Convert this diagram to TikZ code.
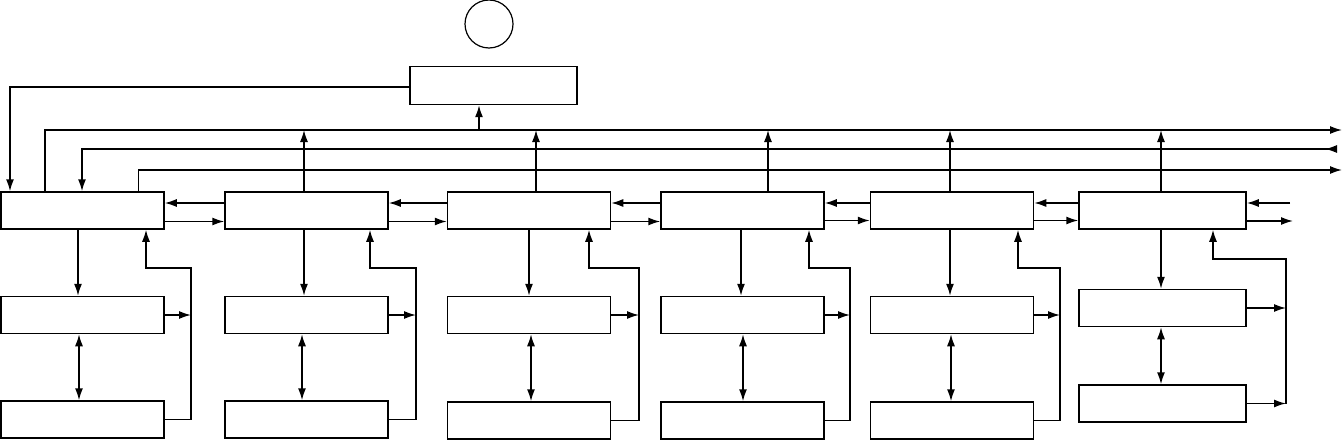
\documentclass[tikz,border=0pt]{standalone}
\usetikzlibrary{positioning,arrows.meta}
\begin{document}
\begin{tikzpicture}[x=1pt, y=-1pt, line width=1.5pt]
	% Define styles for boxes and arrows
	\tikzset{
		box/.style={
			rectangle,
			draw,
			minimum width=163pt,
			minimum height=37pt,
			inner sep=0pt
		},
		widebox/.style={box, minimum width=167pt},
		arr/.style={arrows=-{Latex[length=12pt,width=8pt]}},
		dblarr/.style={arrows={Latex[length=12pt,width=8pt]}-{Latex[length=12pt,width=8pt]}},
		inarr/.style={arrows={Latex[reversed,length=12pt,width=8pt]}-{Latex[length=12pt,width=8pt]}}
	}
	\useasboundingbox (0,0) rectangle (1343,441);

	% Sensor and controller on top
	\node[circle, draw, line width=1.2pt, minimum size=48pt, inner sep=0pt] (sensor) at (489,24) {};
	\node[widebox, minimum height=38pt] (ctrl) at (493.5,85.5) {};

	% Nodes for the stages
	\node[box] (stage1M) at (82.5,210.5) {};
	\node[box] (stage2M) at (306.5,210.5) {};
	\node[box] (stage3M) at (529,210.5) {};
	\node[box] (stage4M) at (742.5,210.5) {};
	\node[box] (stage5M) at (952,210.5) {};
	\node[widebox] (stage6M) at (1162.5,210.5) {};

	% Buffer and store under each stage
	\node[box, below=66pt of stage1M] (mid1M) {};
	\node[box, below=66pt of mid1M] (low1M) {};
	\node[box, below=66pt of stage2M] (mid2M) {};
	\node[box, below=66pt of mid2M] (low2M) {};
	\node[box, below=66pt of stage3M] (mid3M) {};
	\node[box, below=67pt of mid3M] (low3M) {};
	\node[box, below=66pt of stage4M] (mid4M) {};
	\node[box, below=67pt of mid4M] (low4M) {};
	\node[box, below=66pt of stage5M] (mid5M) {};
	\node[box, below=67pt of mid5M] (low5M) {};
	\node[widebox, below=59pt of stage6M] (mid6M) {};
	\node[widebox, below=57pt of mid6M] (low6M) {};

	% Bus lines
	\coordinate (busA) at (1342,130);
	\coordinate (busB) at (1337,149);
	\coordinate (busC) at (1342,170);
	\draw[arr] ([xshift=-37.5pt]stage1M.north) |- (busA);
	\draw[inarr] (busB) -| ([xshift=-0.5pt]stage1M.north);
	\draw[arr] ([xshift=56pt]stage1M.north) |- (busC);
	\draw[arr] ([yshift=-1.5pt]ctrl.west) -| ([xshift=-72.5pt]stage1M.north);
	\coordinate (tap) at ([xshift=-14.5pt]ctrl.south);
	\draw[arr] (tap |- busA) -- (tap);

	% Risers from the stages to the bus
	\coordinate (rise2) at ([xshift=-2.5pt]stage2M.north);
	\coordinate (rise3) at ([xshift=7pt]stage3M.north);
	\coordinate (rise4) at ([xshift=25.5pt]stage4M.north);
	\coordinate (rise5) at ([xshift=-2pt]stage5M.north);
	\coordinate (rise6) at ([xshift=-1.5pt]stage6M.north);
	\draw[arr] (rise2) -- (rise2 |- busA);
	\draw[arr] (rise3) -- (rise3 |- busA);
	\draw[arr] (rise4) -- (rise4 |- busA);
	\draw[arr] (rise5) -- (rise5 |- busA);
	\draw[arr] (rise6) -- (rise6 |- busA);

	% Arrows between neighbouring stages
	\draw[arr] ([yshift=7.5pt]stage2M.west) -- ([yshift=7.5pt]stage1M.east);
	\draw[arr] ([yshift=-11pt]stage1M.east) -- ([yshift=-11pt]stage2M.west);
	\draw[arr] ([yshift=7.5pt]stage3M.west) -- ([yshift=7.5pt]stage2M.east);
	\draw[arr] ([yshift=-11pt]stage2M.east) -- ([yshift=-11pt]stage3M.west);
	\draw[arr] ([yshift=7.5pt]stage4M.west) -- ([yshift=7.5pt]stage3M.east);
	\draw[arr] ([yshift=-11pt]stage3M.east) -- ([yshift=-11pt]stage4M.west);
	\draw[arr] ([yshift=7.5pt]stage5M.west) -- ([yshift=7.5pt]stage4M.east);
	\draw[arr] ([yshift=-10pt]stage4M.east) -- ([yshift=-10pt]stage5M.west);
	\draw[arr] ([yshift=7.5pt]stage6M.west) -- ([yshift=7.5pt]stage5M.east);
	\draw[arr] ([yshift=-10pt]stage5M.east) -- ([yshift=-10pt]stage6M.west);
	\coordinate (in6) at (1290,203);
	\coordinate (out6) at (1293,221);
	\draw[arr] (in6) -- (in6 -| stage6M.east);
	\draw[arr] (out6 -| stage6M.east) -- (out6);

	% Down arrows and links between buffer and store
	\draw[arr] ([xshift=-4.5pt]stage1M.south) -- ([xshift=-4.5pt]mid1M.north);
	\draw[dblarr] ([xshift=-3.5pt]mid1M.south) -- ([xshift=-3.5pt]low1M.north);
	\draw[arr] ([xshift=-2.5pt]stage2M.south) -- ([xshift=-2.5pt]mid2M.north);
	\draw[dblarr] ([xshift=-4.5pt]mid2M.south) -- ([xshift=-4.5pt]low2M.north);
	\draw[arr] (stage3M.south) -- (mid3M.north);
	\draw[dblarr] ([xshift=2pt]mid3M.south) -- ([xshift=2pt]low3M.north);
	\draw[arr] ([xshift=-1.5pt]stage4M.south) -- ([xshift=-1.5pt]mid4M.north);
	\draw[dblarr] ([xshift=0.5pt]mid4M.south) -- ([xshift=0.5pt]low4M.north);
	\draw[arr] ([xshift=-2pt]stage5M.south) -- ([xshift=-2pt]mid5M.north);
	\draw[dblarr] ([xshift=-1pt]mid5M.south) -- ([xshift=-1pt]low5M.north);
	\draw[arr] ([xshift=-1.5pt]stage6M.south) -- ([xshift=-1.5pt]mid6M.north);
	\draw[dblarr] ([xshift=-1.5pt]mid6M.south) -- ([xshift=-1.5pt]low6M.north);

	% Feedback loops back into the stages
	\coordinate (loop1) at (191,268);
	\coordinate (loop2) at (416,268);
	\coordinate (loop3) at (639,268);
	\coordinate (loop4) at (850,268);
	\coordinate (loop5) at (1060,268);
	\coordinate (loop6) at (1286,259);
	\draw[arr] (low1M.east) -| (loop1) -| ([xshift=63.5pt]stage1M.south);
	\draw[arr] (mid1M.east) -- (mid1M.east -| loop1);
	\draw[arr] (low2M.east) -| (loop2) -| ([xshift=63.5pt]stage2M.south);
	\draw[arr] (mid2M.east) -- (mid2M.east -| loop2);
	\draw[arr] (low3M.east) -| (loop3) -| ([xshift=60pt]stage3M.south);
	\draw[arr] (mid3M.east) -- (mid3M.east -| loop3);
	\draw[arr] (low4M.east) -| (loop4) -| ([xshift=66.5pt]stage4M.south);
	\draw[arr] (mid4M.east) -- (mid4M.east -| loop4);
	\draw[arr] (low5M.east) -| (loop5) -| ([xshift=66pt]stage5M.south);
	\draw[arr] (mid5M.east) -- (mid5M.east -| loop5);
	\draw[arr] (loop6 |- low6M.east) -- (loop6) -| ([xshift=50.5pt]stage6M.south);
	\draw[arr] (low6M.east) -- (low6M.east -| loop6);
	\draw[arr] (mid6M.east) -- (mid6M.east -| loop6);
\end{tikzpicture}
\end{document}
